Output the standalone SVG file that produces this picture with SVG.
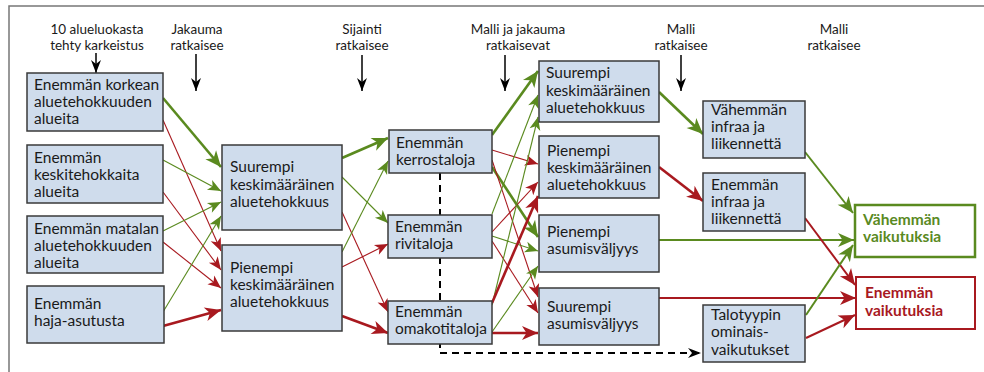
<svg xmlns="http://www.w3.org/2000/svg" width="984" height="372" viewBox="0 0 984 372">
<defs>
<style>
.box{fill:#cfdcec;stroke:#3a3a3a;stroke-width:1.5}
.t{font-family:Lato,"Liberation Sans",sans-serif;font-size:15.5px;fill:#1a1a1a}
.h{font-family:Lato,"Liberation Sans",sans-serif;font-size:13.5px;fill:#1a1a1a;text-anchor:middle}
.og{fill:#fff;stroke:#5a8a1f;stroke-width:2.5}
.or{fill:#fff;stroke:#a8191f;stroke-width:2}
.tg{font-family:Lato,"Liberation Sans",sans-serif;font-size:15.5px;font-weight:bold;fill:#5a8a1f}
.tr{font-family:Lato,"Liberation Sans",sans-serif;font-size:15.5px;font-weight:bold;fill:#a8191f}
.gk{stroke:#5a8a1f;stroke-width:2.6;fill:none;marker-end:url(#mgk)}
.gn{stroke:#5a8a1f;stroke-width:1.1;fill:none;marker-end:url(#mgn)}
.gm{stroke:#5a8a1f;stroke-width:2;fill:none;marker-end:url(#mgk)}
.rk{stroke:#a8191f;stroke-width:2.6;fill:none;marker-end:url(#mrk)}
.rn{stroke:#a8191f;stroke-width:1.1;fill:none;marker-end:url(#mrn)}
.rm{stroke:#a8191f;stroke-width:2;fill:none;marker-end:url(#mrk)}
.bk{stroke:#000;stroke-width:1.5;fill:none;marker-end:url(#mbk)}
.dash{stroke:#000;stroke-width:2;fill:none;stroke-dasharray:7 5;marker-end:url(#mbk)}
</style>
<marker id="mgk" viewBox="-17 -8 17 16" refX="0" refY="0" markerWidth="17" markerHeight="16" markerUnits="userSpaceOnUse" orient="auto"><path d="M0,0 L-16,-7 L-11.5,0 L-16,7 Z" fill="#5a8a1f"/></marker>
<marker id="mgn" viewBox="-16 -8 16 16" refX="0" refY="0" markerWidth="16" markerHeight="16" markerUnits="userSpaceOnUse" orient="auto"><path d="M0,0 L-13,-5.5 L-9.5,0 L-13,5.5 Z" fill="#5a8a1f"/></marker>
<marker id="mrk" viewBox="-17 -8 17 16" refX="0" refY="0" markerWidth="17" markerHeight="16" markerUnits="userSpaceOnUse" orient="auto"><path d="M0,0 L-16,-7 L-11.5,0 L-16,7 Z" fill="#a8191f"/></marker>
<marker id="mrn" viewBox="-16 -8 16 16" refX="0" refY="0" markerWidth="16" markerHeight="16" markerUnits="userSpaceOnUse" orient="auto"><path d="M0,0 L-13,-5.5 L-9.5,0 L-13,5.5 Z" fill="#a8191f"/></marker>
<marker id="mbk" viewBox="-16 -8 16 16" refX="0" refY="0" markerWidth="16" markerHeight="16" markerUnits="userSpaceOnUse" orient="auto"><path d="M0,0 L-13,-5 L-9,0 L-13,5 Z" fill="#000"/></marker>
</defs>
<rect width="984" height="372" fill="#fff"/>
<g id="frame" stroke="#777" stroke-width="1.5" fill="none"><path d="M9,372 L9,6 L984,6"/></g>

<g id="headers">
<text class="h" x="97" y="34">10 alueluokasta</text><text class="h" x="97" y="50">tehty karkeistus</text>
<text class="h" x="197" y="34">Jakauma</text><text class="h" x="197" y="50">ratkaisee</text>
<text class="h" x="362" y="34">Sijainti</text><text class="h" x="362" y="50">ratkaisee</text>
<text class="h" x="518" y="34">Malli ja jakauma</text><text class="h" x="518" y="50">ratkaisevat</text>
<text class="h" x="681" y="34">Malli</text><text class="h" x="681" y="50">ratkaisee</text>
<text class="h" x="834" y="34">Malli</text><text class="h" x="834" y="50">ratkaisee</text>
</g>

<g id="connectors">
<line class="bk" x1="96" y1="53" x2="96" y2="73"/>
<line class="bk" x1="196" y1="54" x2="196" y2="91"/>
<line class="bk" x1="362" y1="55" x2="362" y2="91"/>
<line class="bk" x1="505" y1="55" x2="505" y2="91"/>
<line class="bk" x1="681" y1="55" x2="681" y2="91"/>
<path class="dash" d="M440,173 L440,353 L701,353"/>
<line class="gk" x1="163" y1="98" x2="221" y2="167"/>
<line class="rn" x1="163" y1="120" x2="221" y2="251"/>
<line class="gn" x1="163" y1="160" x2="221" y2="191"/>
<line class="rn" x1="163" y1="192" x2="221" y2="270"/>
<line class="gn" x1="163" y1="231" x2="221" y2="202"/>
<line class="rn" x1="163" y1="242" x2="221" y2="288"/>
<line class="gn" x1="163" y1="312" x2="221" y2="216"/>
<line class="rk" x1="163" y1="326" x2="221" y2="310"/>
<line class="gk" x1="342" y1="158" x2="388" y2="138"/>
<line class="gn" x1="342" y1="177" x2="388" y2="223"/>
<line class="rn" x1="342" y1="212" x2="388" y2="312"/>
<line class="gn" x1="342" y1="252" x2="388" y2="161"/>
<line class="rn" x1="342" y1="267" x2="388" y2="244"/>
<line class="rk" x1="342" y1="316" x2="388" y2="333"/>
<line class="gk" x1="492" y1="135" x2="538" y2="71"/>
<line class="rn" x1="492" y1="150" x2="538" y2="164"/>
<line class="gk" x1="492" y1="167" x2="538" y2="237"/>
<line class="rn" x1="492" y1="160" x2="538" y2="297"/>
<line class="gn" x1="492" y1="214" x2="538" y2="95"/>
<line class="rn" x1="492" y1="232" x2="538" y2="182"/>
<line class="gn" x1="492" y1="236" x2="538" y2="251"/>
<line class="rn" x1="492" y1="241" x2="538" y2="313"/>
<line class="gn" x1="492" y1="305" x2="538" y2="117"/>
<line class="rk" x1="492" y1="303" x2="538" y2="196"/>
<line class="gn" x1="492" y1="332" x2="538" y2="266"/>
<line class="rk" x1="492" y1="333" x2="538" y2="333"/>
<line class="gk" x1="659" y1="92" x2="703" y2="134"/>
<line class="rk" x1="659" y1="167" x2="703" y2="201"/>
<line class="gm" x1="659" y1="240" x2="854" y2="240"/>
<line class="rm" x1="659" y1="298" x2="856" y2="298"/>
<line class="gm" x1="805" y1="152" x2="853" y2="213"/>
<line class="rm" x1="805" y1="218" x2="855" y2="285"/>
<line class="gm" x1="806" y1="315" x2="853" y2="245"/>
<line class="rm" x1="806" y1="338" x2="855" y2="315"/>
</g>

<g id="n-korkea"><rect class="box" x="27" y="73" width="136" height="58"/><text class="t"><tspan x="34" y="90">Enemmän korkean</tspan><tspan x="34" y="107">aluetehokkuuden</tspan><tspan x="34" y="124">alueita</tspan></text></g>
<g id="n-keski"><rect class="box" x="27" y="145" width="136" height="58"/><text class="t"><tspan x="34" y="163">Enemmän</tspan><tspan x="34" y="180">keskitehokkaita</tspan><tspan x="34" y="197">alueita</tspan></text></g>
<g id="n-matala"><rect class="box" x="27" y="216" width="136" height="57"/><text class="t"><tspan x="34" y="234">Enemmän matalan</tspan><tspan x="34" y="251">aluetehokkuuden</tspan><tspan x="34" y="268">alueita</tspan></text></g>
<g id="n-haja"><rect class="box" x="27" y="286" width="137" height="57"/><text class="t"><tspan x="34" y="309">Enemmän</tspan><tspan x="34" y="326">haja-asutusta</tspan></text></g>

<g id="n-suurempi1"><rect class="box" x="222" y="145" width="120" height="85"/><text class="t"><tspan x="230" y="172">Suurempi</tspan><tspan x="230" y="190">keskimääräinen</tspan><tspan x="230" y="207">aluetehokkuus</tspan></text></g>
<g id="n-pienempi1"><rect class="box" x="222" y="245" width="120" height="86"/><text class="t"><tspan x="230" y="273">Pienempi</tspan><tspan x="230" y="290">keskimääräinen</tspan><tspan x="230" y="307">aluetehokkuus</tspan></text></g>

<g id="n-kerros"><rect class="box" x="389" y="130" width="103" height="43"/><text class="t"><tspan x="396" y="148">Enemmän</tspan><tspan x="396" y="165">kerrostaloja</tspan></text></g>
<g id="n-rivi"><rect class="box" x="388" y="215" width="104" height="43"/><text class="t"><tspan x="395" y="232">Enemmän</tspan><tspan x="395" y="249">rivitaloja</tspan></text></g>
<g id="n-omakoti"><rect class="box" x="388" y="301" width="104" height="43"/><text class="t"><tspan x="395" y="317">Enemmän</tspan><tspan x="395" y="334">omakotitaloja</tspan></text></g>

<g id="n-suurempi2"><rect class="box" x="539" y="61" width="120" height="61"/><text class="t"><tspan x="546" y="78">Suurempi</tspan><tspan x="546" y="96">keskimääräinen</tspan><tspan x="546" y="113">aluetehokkuus</tspan></text></g>
<g id="n-pienempi2"><rect class="box" x="539" y="136" width="120" height="62"/><text class="t"><tspan x="547" y="156">Pienempi</tspan><tspan x="547" y="173">keskimääräinen</tspan><tspan x="547" y="190">aluetehokkuus</tspan></text></g>
<g id="n-pienempi-valj"><rect class="box" x="539" y="215" width="120" height="57"/><text class="t"><tspan x="547" y="237">Pienempi</tspan><tspan x="547" y="254">asumisväljyys</tspan></text></g>
<g id="n-suurempi-valj"><rect class="box" x="539" y="288" width="120" height="57"/><text class="t"><tspan x="547" y="312">Suurempi</tspan><tspan x="547" y="329">asumisväljyys</tspan></text></g>

<g id="n-vah-infra"><rect class="box" x="703" y="101" width="102" height="57"/><text class="t"><tspan x="711" y="115">Vähemmän</tspan><tspan x="711" y="132">infraa ja</tspan><tspan x="711" y="149">liikennettä</tspan></text></g>
<g id="n-en-infra"><rect class="box" x="703" y="173" width="102" height="58"/><text class="t"><tspan x="711" y="190">Enemmän</tspan><tspan x="711" y="207">infraa ja</tspan><tspan x="711" y="224">liikennettä</tspan></text></g>
<g id="n-talotyyppi"><rect class="box" x="703" y="305" width="102" height="57"/><text class="t"><tspan x="711" y="320">Talotyypin</tspan><tspan x="711" y="337">ominais-</tspan><tspan x="711" y="355">vaikutukset</tspan></text></g>

<g id="n-vahemman"><rect class="og" x="855" y="205" width="120" height="52"/><text class="tg"><tspan x="863" y="225">Vähemmän</tspan><tspan x="863" y="242">vaikutuksia</tspan></text></g>
<g id="n-enemman"><rect class="or" x="856" y="277" width="119" height="52"/><text class="tr"><tspan x="865" y="298">Enemmän</tspan><tspan x="865" y="316">vaikutuksia</tspan></text></g>
</svg>
